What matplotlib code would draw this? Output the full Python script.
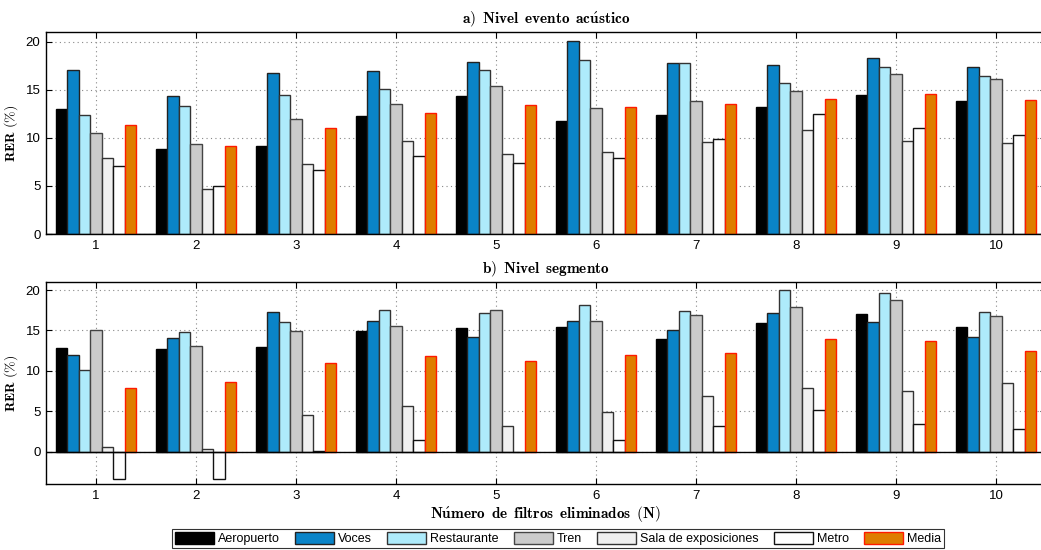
import matplotlib
matplotlib.use('Agg')
import matplotlib.pyplot as plt
import numpy as np

plt.rcParams['mathtext.fontset'] = 'cm'
plt.rcParams['font.family'] = ['Liberation Sans', 'DejaVu Sans']

n_filtros = [1, 2, 3, 4, 5, 6, 7, 8, 9, 10]
series = ['Aeropuerto', 'Voces', 'Restaurante', 'Tren', 'Sala de exposiciones', 'Metro', 'Media']

# a) Nivel evento acustico
evento_aeropuerto = [13.0, 8.8, 9.2, 12.3, 14.4, 11.8, 12.4, 13.2, 14.5, 13.8]
evento_voces = [17.0, 14.3, 16.7, 16.9, 17.85, 20.1, 17.8, 17.6, 18.3, 17.4]
evento_restaurante = [12.35, 13.35, 14.45, 15.1, 17.1, 18.05, 17.8, 15.7, 17.4, 16.45]
evento_tren = [10.5, 9.35, 12.0, 13.55, 15.4, 13.05, 13.8, 14.9, 16.6, 16.1]
evento_sala = [7.9, 4.7, 7.3, 9.7, 8.35, 8.55, 9.55, 10.8, 9.65, 9.45]
evento_metro = [7.05, 4.95, 6.7, 8.1, 7.4, 7.95, 9.85, 12.45, 11.05, 10.25]
evento_media = [11.3, 9.2, 11.05, 12.6, 13.4, 13.25, 13.5, 14.05, 14.55, 13.9]

# b) Nivel segmento
segmento_aeropuerto = [12.8, 12.7, 13.0, 14.95, 15.3, 15.4, 13.95, 15.95, 17.0, 15.4]
segmento_voces = [12.0, 14.1, 17.25, 16.2, 14.2, 16.15, 15.0, 17.15, 16.0, 14.2]
segmento_restaurante = [10.1, 14.85, 16.1, 17.55, 17.2, 18.15, 17.4, 19.95, 19.65, 17.25]
segmento_tren = [15.0, 13.1, 14.95, 15.5, 17.5, 16.2, 16.9, 17.9, 18.75, 16.8]
segmento_sala = [0.6, 0.3, 4.55, 5.7, 3.2, 4.9, 6.95, 7.85, 7.55, 8.45]
segmento_metro = [-3.35, -3.35, 0.08, 1.45, -0.08, 1.5, 3.2, 5.15, 3.4, 2.85]
segmento_media = [7.9, 8.6, 10.95, 11.85, 11.25, 12.0, 12.2, 13.95, 13.7, 12.45]

evento = [evento_aeropuerto, evento_voces, evento_restaurante, evento_tren,
          evento_sala, evento_metro, evento_media]
segmento = [segmento_aeropuerto, segmento_voces, segmento_restaurante, segmento_tren,
            segmento_sala, segmento_metro, segmento_media]

colores = ['#000000', '#0a84c8', '#aeebfb', '#cbcbcb', '#f0f0f0', '#ffffff', '#de7d00']
bordes = ['#000000', '#222222', '#333333', '#444444', '#333333', '#111111', '#ff1a00']

fig = plt.figure(figsize=(10.41, 5.5), dpi=100)
ax1 = fig.add_axes([0.0442, 0.5745, 0.9606, 0.3673])
ax2 = fig.add_axes([0.0442, 0.1200, 0.9606, 0.3673])

x = np.array(n_filtros)
w = 0.8 / 7


def dibujar(ax, datos, titulo, ylim):
    for i, vals in enumerate(datos):
        off = (i - 3) * w
        ax.bar(x + off, vals, width=w, color=colores[i], edgecolor=bordes[i],
               linewidth=1.0, label=series[i], zorder=3)
    ax.axhline(0, color='k', lw=1.0, zorder=4)
    ax.set_xlim(0.5, 10.5)
    ax.set_ylim(*ylim)
    ax.set_xticks(n_filtros)
    ax.set_yticks([0, 5, 10, 15, 20])
    ax.grid(True, linestyle=(0, (1, 3)), color='#888888', linewidth=0.8, zorder=0)
    ax.tick_params(direction='in', top=True, right=True, length=4.5, width=0.8,
                   labelsize=9.5, pad=4)
    for s in ax.spines.values():
        s.set_linewidth(1.0)
    ax.set_title(titulo, fontsize=11, pad=6)
    ax.set_ylabel(r'$\mathbf{RER\ (\%)}$', fontsize=10, labelpad=4)


dibujar(ax1, evento, r'$\mathbf{a)\ \,Nivel\ \,evento\ \,ac\acute{u}stico}$', (0, 21))
dibujar(ax2, segmento, r'$\mathbf{b)\ \,Nivel\ \,segmento}$', (-4, 21))
ax2.set_xlabel(r'$\mathbf{N\acute{u}mero\ \,de\ \,filtros\ \,eliminados\ \,(N)}$',
               fontsize=11, labelpad=2)

h, l = ax1.get_legend_handles_labels()
leg = fig.legend(h, l, loc='center', bbox_to_anchor=(0.536, 0.021), ncol=7,
                 frameon=True, fancybox=False, edgecolor='k', fontsize=9,
                 handlelength=3.1, handleheight=1.1, handletextpad=0.3,
                 columnspacing=1.25, borderpad=0.25, borderaxespad=0)
leg.get_frame().set_linewidth(0.8)

fig.savefig('out.png', dpi=100)
